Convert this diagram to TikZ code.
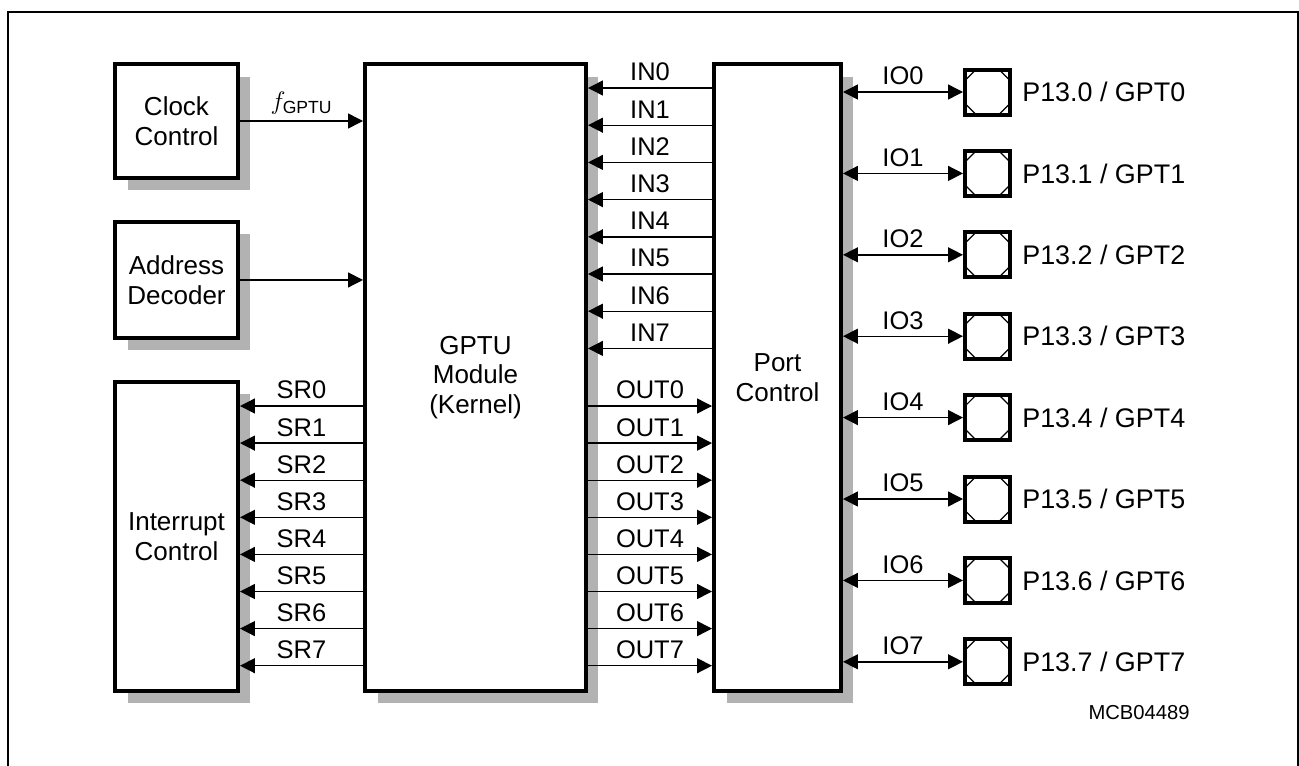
\documentclass[tikz,border=0pt]{standalone}
\usepackage{fontspec}
\setmainfont{Liberation Sans}
\usetikzlibrary{arrows.meta,positioning,shadows}

\begin{document}
\begin{tikzpicture}[x=0.02cm, y=-0.02cm,
  blk/.style={draw, line width=0.08cm, fill=white, align=center, inner sep=0pt,
    font=\fontsize{14.8}{17}\selectfont,
    drop shadow={shadow xshift=0.25cm, shadow yshift=-0.25cm, fill=black!30, opacity=1}},
  pad/.style={draw, line width=0.08cm, fill=white, minimum size=0.9cm, inner sep=0pt,
    path picture={
      \foreach \c/\sx/\sy in {north west/1/-1, north east/-1/-1, south west/1/1, south east/-1/1}
        \draw[line width=0.7pt] ([yshift=\sy*0.22cm]path picture bounding box.\c) -- ([xshift=\sx*0.22cm]path picture bounding box.\c);
    }},
  sig/.style={line width=0.8pt, -{Triangle[length=8.5pt, width=8.5pt]}},
  bidir/.style={line width=0.8pt, {Triangle[length=8.5pt, width=8.5pt]}-{Triangle[length=8.5pt, width=8.5pt]}},
  lbl/.style={font=\fontsize{14.5}{16}\selectfont, inner sep=3.5pt},
  padtxt/.style={font=\fontsize{15.3}{18}\selectfont, inner sep=0pt}
]
\useasboundingbox (0,0) rectangle (1299,765);
\draw[line width=0.04cm] (8,12) rectangle (1298,800);

% blocks
\node[blk, minimum width=2.46cm, minimum height=2.28cm] (clock) at (176.5,121) {Clock\\Control};
\node[blk, minimum width=2.46cm, minimum height=2.32cm, below=0.8cm of clock] (addr) {Address\\Decoder};
\node[blk, minimum width=2.46cm, minimum height=6.18cm, below=0.8cm of addr] (intr) {Interrupt\\Control};
\node[blk, minimum width=4.42cm, minimum height=12.54cm] (gptu) at (475.5,377.5) {GPTU\\Module\\(Kernel)};
\node[blk, minimum width=2.54cm, minimum height=12.54cm] (port) at (777.5,377.5) {Port\\Control};

\draw[sig] (clock.east) -- (clock.east -| gptu.west) node[midway, above, lbl]{$f_{\mbox{\fontsize{10}{11}\selectfont GPTU}}$};
\draw[sig] (addr.east) -- (addr.east -| gptu.west);

\foreach \i in {0,...,7} {
  \coordinate (in\i) at (650,{88+37.2*\i});
  \coordinate (row\i) at (475,{406+37.1*\i});
  \draw[sig] (port.west |- in\i) -- (gptu.east |- in\i) node[midway, above, lbl]{IN\i};
  \draw[sig] (gptu.east |- row\i) -- (port.west |- row\i) node[midway, above, lbl]{OUT\i};
  \draw[sig] (gptu.west |- row\i) -- (intr.east |- row\i) node[midway, above, lbl]{SR\i};
}

% pads
\foreach \i in {0,...,7} {
  \node[pad] (pad\i) at (987.5,{92+81.4*\i}) {};
  \node[padtxt, right=0.2cm of pad\i] (pin\i) {P13.\i{} / GPT\i};
  \draw[bidir] (port.east |- pad\i) -- (pad\i.west) node[midway, above, lbl]{IO\i};
}

\node[font=\fontsize{11.5}{13}\selectfont, anchor=east, inner sep=0pt] (code) at (1190,713) {MCB04489};
\end{tikzpicture}
\end{document}
